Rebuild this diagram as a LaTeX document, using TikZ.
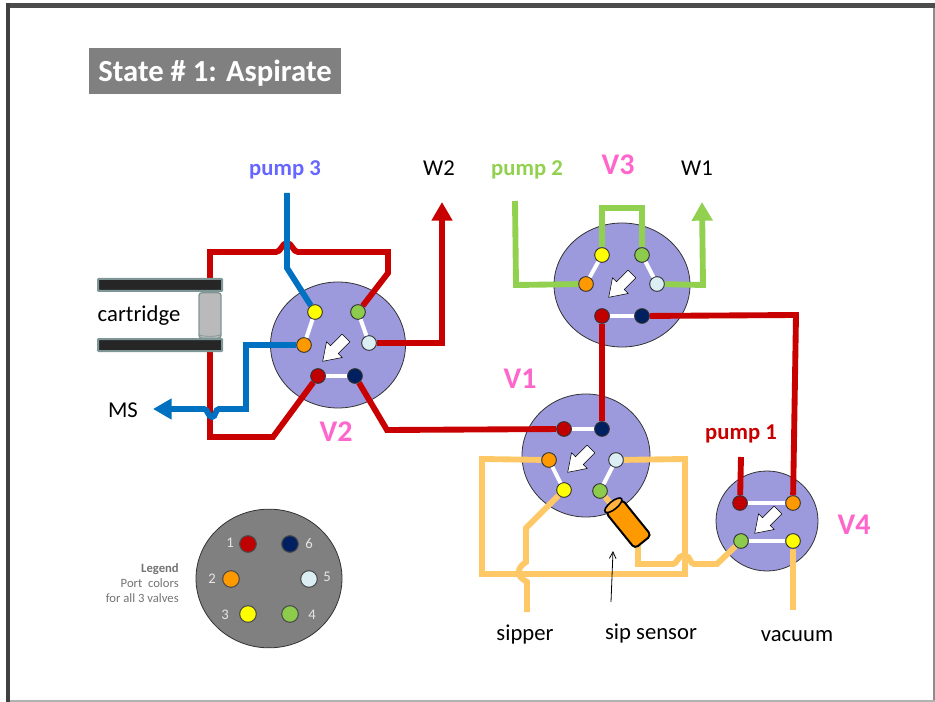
\documentclass[tikz,border=0pt]{standalone}
\usepackage{fontspec}
\setmainfont{Carlito}
\usetikzlibrary{graphs}
\usetikzlibrary{arrows.meta}
\usetikzlibrary{shapes.geometric}

\definecolor{discblue}{HTML}{9C9ADC}
\definecolor{pipered}{HTML}{C80000}
\definecolor{pipeblue}{HTML}{0070C0}
\definecolor{pipegreen}{HTML}{92D050}
\definecolor{pipesand}{HTML}{FFC866}
\definecolor{portred}{HTML}{C00000}
\definecolor{portnavy}{HTML}{002060}
\definecolor{portorange}{HTML}{FF9900}
\definecolor{portlight}{HTML}{DAEEF3}
\definecolor{portyellow}{HTML}{FFFF00}
\definecolor{portgreen}{HTML}{8CCB4C}
\definecolor{labelpink}{HTML}{FF66CC}
\definecolor{labelblue}{HTML}{6666FF}
\definecolor{bargray}{HTML}{7F9696}

\begin{document}
\begin{tikzpicture} [x=0.75pt,y=-0.75pt,
        disc/.style={draw=black!80,ellipse,fill=discblue,inner sep=0pt,line width=0.6pt},
        port/.style={draw=black!80,circle,inner sep=0pt,minimum size=11pt,line width=0.7pt,fill=#1},
        bigport/.style={draw=black!70,circle,inner sep=0pt,minimum size=12.5pt,line width=0.8pt,fill=#1},
        pipe/.style={line width=4.4pt,draw=#1,line join=miter},
        flow/.style={-{Triangle[length=14pt,width=15pt]},line width=4.4pt,draw=#1},
        tag/.style={font=\fontsize{17}{20}\selectfont,inner sep=0pt},
        pumptag/.style={font=\fontsize{17}{20}\selectfont\bfseries,inner sep=0pt,text=#1},
        valvetag/.style={font=\fontsize{22.5}{26}\selectfont\bfseries,inner sep=0pt,text=labelpink},
        bar/.style={draw=bargray,fill=black!85,line width=1.5pt,minimum width=93pt,minimum height=9pt,inner sep=0pt,rounded corners=0.5pt},
        legnum/.style={font=\fontsize{11}{13}\selectfont,inner sep=0pt,text=black!10},
        flowarrow/.pic={\draw[scale=1.1,fill=white,draw=black,line width=0.4pt] (3.5,3.5) -- (-7.1,14.1) -- (-3.5,17.7) -- (-21.2,21.2) -- (-17.7,3.5) -- (-14.1,7.1) -- (-3.5,-3.5) -- cycle;}]

            \useasboundingbox (0,0) rectangle (935,702);
            % page frame
            \fill[black!70] (6,3) rectangle (935,8);
            \fill[black!75] (6,3) rectangle (10,702);
            \fill[black!45] (933,8) rectangle (935,702);
            \fill[black!30] (10,700) rectangle (935,702);

            \node[fill=black!50,minimum width=189pt,minimum height=34.5pt,inner sep=0pt] (titlebox) at (215,71) {};
            \node[inner sep=0pt,text=white,font=\fontsize{23}{27}\selectfont\bfseries] (title) at (215,73) {State \# 1: Aspirate};

            % valves
            \node[disc,minimum width=101.25pt,minimum height=94.5pt] (vtwo) at (338,345) {};
            \node[disc,minimum width=102pt,minimum height=93pt] (vthree) at (622,285) {};
            \node[disc,minimum width=96pt,minimum height=92.25pt] (vone) at (586,455.5) {};
            \node[disc,minimum width=76.5pt,minimum height=75pt] (vfour) at (767,521) {};

            \pic at (346,338) {flowarrow};
            \pic at (632,274) {flowarrow};
            \pic at (591,449) {flowarrow};
            \pic at (778,510) {flowarrow};

            % ports
            \node[port=portyellow] (vtwoc) at (315,312) {};
            \node[port=portgreen] (vtwod) at (358,312) {};
            \node[port=portorange] (vtwob) at (304,345) {};
            \node[port=portlight] (vtwoe) at (369,343) {};
            \node[port=portred] (vtwoa) at (318,376) {};
            \node[port=portnavy] (vtwof) at (355,376) {};

            \node[port=portyellow] (vthreec) at (602,255) {};
            \node[port=portgreen] (vthreed) at (642,255) {};
            \node[port=portorange] (vthreeb) at (586,284) {};
            \node[port=portlight] (vthreee) at (657,284) {};
            \node[port=portred] (vthreea) at (602,316) {};
            \node[port=portnavy] (vthreef) at (642,316) {};

            \node[port=portred] (vonea) at (564,429) {};
            \node[port=portnavy] (vonef) at (602,429) {};
            \node[port=portorange] (voneb) at (549,460) {};
            \node[port=portlight] (vonee) at (616,460) {};
            \node[port=portyellow] (vonec) at (564,490) {};
            \node[port=portgreen] (voned) at (600,491) {};

            \node[port=portred] (vfoura) at (740,503) {};
            \node[port=portorange] (vfourb) at (793,503) {};
            \node[port=portgreen] (vfourd) at (741,541) {};
            \node[port=portyellow] (vfourc) at (793,541) {};

            \graph[edges={draw=white,line width=3pt}] {
                (vtwob) -- (vtwoc), (vtwod) -- (vtwoe), (vtwoa) -- (vtwof),
                (vthreeb) -- (vthreec), (vthreed) -- (vthreee), (vthreea) -- (vthreef),
                (vonea) -- (vonef), (voneb) -- (vonec), (voned) -- (vonee),
                (vfoura) -- (vfourb), (vfourd) -- (vfourc)
            };

            % free ends
            \coordinate (pumpthree) at (287,193);
            \coordinate (ms) at (153,409);
            \coordinate (wtwo) at (442,202);
            \coordinate (pumptwo) at (515,201);
            \coordinate (wone) at (702,202);
            \coordinate (pumpone) at (741,457);
            \coordinate (sipper) at (527,612);
            \coordinate (vacuum) at (793,610);
            \coordinate (cartin) at (210,280);
            \coordinate (cartout) at (210,352);
            \coordinate (sensorout) at (638,540);
            \coordinate (sensortip) at (613,551);
            \coordinate (sensorfoot) at (611,602);

            % cartridge
            \draw[pipe=pipered] (vtwod) -- (388,273) -- (388,252) -- (298,252) .. controls (293,252) and (292,243) .. (287,243) .. controls (282,243) and (281,252) .. (276,252) -- (210,252) -- (cartin);
            \draw[pipe=pipered] (cartout) -- (210,437) -- (273,437) -- (vtwoa);
            \node[bar] (cartop) at (160,285) {};
            \node[bar] (carbot) at (160,345) {};
            \node[draw=bargray,fill=black!27,line width=1pt,rounded corners=2pt,minimum width=16.5pt,minimum height=34pt,inner sep=0pt] (cartbody) at (210,315.5) {};
            \draw[bargray,line width=0.5pt] (cartbody.south west) ++(1,-4) .. controls (203,337) and (219,337) .. (221,334);
            \node[tag] (cartlabel) at (139,316) {cartridge};

            % blue
            \draw[pipe=pipeblue] (pumpthree) -- (287,268) -- (vtwoc);
            \draw[flow=pipeblue] (vtwob) -- (246,345) -- (246,409) -- (219,409) .. controls (215,409) and (216,417) .. (212,417) .. controls (208,417) and (208,409) .. (204,409) -- (ms);

            % red
            \draw[flow=pipered] (vtwoe) -- (442,343) -- (wtwo);
            \draw[pipe=pipered] (vtwof) -- (387,430) -- (vonea);
            \draw[pipe=pipered] (vthreea) -- (vonef);
            \draw[pipe=pipered] (vthreef) -- (796,315) -- (vfourb);
            \draw[pipe=pipered] (pumpone) -- (vfoura);

            % green
            \draw[pipe=pipegreen] (pumptwo) -- (516,285) -- (vthreeb);
            \draw[pipe=pipegreen] (vthreec) -- (602,208) -- (642,208) -- (vthreed);
            \draw[flow=pipegreen] (vthreee) -- (703,285) -- (wone);

            % sand
            \draw[pipe=pipesand] (voneb) -- (482,459) -- (482,574) -- (685,574) -- (685,459) -- (vonee);
            \draw[pipe=pipesand] (vonec) -- (526,528) -- (526,562) .. controls (520,566) and (518,570) .. (519,574) .. controls (520,578) and (524,580) .. (527,582) -- (sipper);
            \draw[pipe=pipesand] (vfourc) -- (vacuum);
            \draw[pipe=pipesand] (sensorout) -- (638,564) -- (673,564) .. controls (677,564) and (678,556) .. (682,556) -- (686,556) .. controls (690,556) and (690,564) .. (694,564) -- (717,564) -- (vfourd);
            \node[rotate=-51,draw=black,line width=1.5pt,fill=portorange,rounded corners=3pt,minimum width=34.6pt,minimum height=15.75pt,inner sep=0pt] (sensor) at (628.5,524) {};
            \draw[pipe=pipesand] (voned) -- (sensor);
            \node[ellipse,rotate=-51,draw=black,line width=1.2pt,fill=portorange!75,minimum width=6pt,minimum height=15.75pt,inner sep=0pt] (sensorcap) at (sensor.west) {};
            \draw[-{Straight Barb[length=5pt,width=5pt]},line width=0.6pt] (sensorfoot) -- (sensortip);

            % labels
            \node[pumptag=labelblue] (pumpthreelabel) at (285,169.5) {pump 3};
            \node[tag] (wtwolabel) at (439,168) {W2};
            \node[pumptag=pipegreen] (pumptwolabel) at (527,169.5) {pump 2};
            \node[valvetag] (vthreelabel) at (618,165) {V3};
            \node[tag] (wonelabel) at (697,168) {W1};
            \node[valvetag] (vonelabel) at (520,379) {V1};
            \node[valvetag] (vtwolabel) at (336,432) {V2};
            \node[valvetag] (vfourlabel) at (854,525) {V4};
            \node[pumptag=pipered] (pumponelabel) at (741,433.5) {pump 1};
            \node[tag] (mslabel) at (123,410) {MS};
            \node[tag] (sipperlabel) at (525,634.5) {sipper};
            \node[tag] (sensorlabel) at (651,634) {sip sensor};
            \node[tag] (vacuumlabel) at (797,636) {vacuum};

            % legend
            \node[ellipse,draw=black!80,fill=black!50,inner sep=0pt,minimum width=109.5pt,minimum height=104pt,line width=0.6pt] (legend) at (269,578.5) {};
            \node[bigport=portred] (lega) at (248,544) {};
            \node[bigport=portnavy] (legf) at (290,544) {};
            \node[bigport=portorange] (legb) at (231,579) {};
            \node[bigport=portlight] (lege) at (309,579) {};
            \node[bigport=portyellow] (legc) at (248,614) {};
            \node[bigport=portgreen] (legd) at (290,614) {};
            \node[legnum] (numa) at (230,543) {1};
            \node[legnum] (numf) at (309,544) {6};
            \node[legnum] (numb) at (212,579) {2};
            \node[legnum] (nume) at (327,577) {5};
            \node[legnum] (numc) at (225,615) {3};
            \node[legnum] (numd) at (312,615) {4};
            \node[align=right,anchor=east,inner sep=0pt,text=black!55,font=\fontsize{9.5}{11.2}\selectfont] (legtext) at (179,583) {\textbf{Legend}\\Port~ colors\\for all 3 valves};
        \end{tikzpicture}
\end{document}
